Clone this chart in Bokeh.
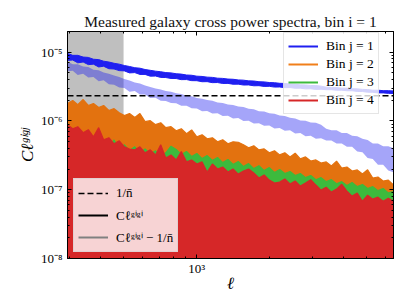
import numpy as np
from bokeh.plotting import figure
from bokeh.models import (Range1d, LogAxis, FixedTicker, CustomJSTickFormatter,
                          BoxAnnotation, Legend, LegendItem)
from bokeh.embed import file_html
from bokeh.resources import INLINE

# multipole ell of each binned sample
ell = [294, 309, 324, 341, 358, 376, 395, 414, 435, 457,
       480, 504, 529, 556, 584, 613, 644, 677, 711, 746,
       784, 823, 864, 908, 953, 1001, 1052, 1104, 1160, 1218,
       1279, 1344, 1411, 1482, 1557, 1635, 1717, 1803, 1894, 1989,
       2089, 2194, 2304, 2420, 2541, 2669, 2803, 2944, 3092, 3247,
       3410, 3581, 3761, 3950, 4149, 4357, 4576, 4806, 5047, 5301,
       5567, 5847, 6141, 6450]

# C_ell^{g1 g1}: upper / lower spread of the noisy measurement (units 1e-6)
c11_hi = [9.6, 9.0, 9.0, 8.5, 8.4, 7.9, 7.8, 7.4, 7.2, 6.9,
          6.7, 6.4, 6.2, 5.95, 5.85, 5.6, 5.45, 5.3, 5.2, 5.05,
          5.0, 4.86, 4.80, 4.66, 4.62, 4.48, 4.44, 4.34, 4.30, 4.19,
          4.16, 4.07, 4.04, 3.95, 3.92, 3.83, 3.81, 3.72, 3.70, 3.62,
          3.60, 3.53, 3.51, 3.44, 3.42, 3.35, 3.34, 3.28, 3.27, 3.21,
          3.10, 3.06, 3.06, 3.00, 3.00, 2.94, 2.93, 2.88, 2.86, 2.80,
          2.80, 2.76, 2.76, 2.73]
c11_lo = [7.6, 7.7, 7.0, 7.2, 6.6, 6.7, 6.1, 6.25, 5.75, 5.7,
          5.4, 5.35, 5.0, 5.05, 4.75, 4.75, 4.48, 4.5, 4.30, 4.28,
          4.15, 4.14, 3.99, 4.0, 3.86, 3.85, 3.72, 3.73, 3.61, 3.62,
          3.51, 3.52, 3.42, 3.43, 3.33, 3.34, 3.25, 3.26, 3.18, 3.19,
          3.11, 3.12, 3.05, 3.06, 2.99, 3.00, 2.93, 2.94, 2.88, 2.89,
          2.85, 2.85, 2.80, 2.80, 2.75, 2.75, 2.69, 2.68, 2.62, 2.61,
          2.56, 2.56, 2.52, 2.51]

# C_ell^{g1 g2}: upper / lower spread (units 1e-7)
c12_hi = [17.9, 19.8, 17.3, 20.5, 16.8, 17.9, 15.7, 16.8, 14.2, 15.1,
          13.2, 12.0, 12.8, 11.2, 12.8, 9.77, 10.1, 8.83, 9.44, 7.98,
          8.25, 7.21, 7.71, 6.52, 7.4, 5.89, 6.30, 5.51, 5.70, 4.98,
          5.33, 4.65, 4.98, 4.9, 4.50, 4.07, 4.35, 3.80, 3.93, 3.44,
          3.68, 3.21, 3.44, 3.00, 3.4, 2.81, 3.00, 2.62, 2.71, 2.45,
          2.54, 2.22, 2.6, 2.07, 2.14, 1.87, 1.94, 1.69, 1.95, 1.48,
          1.53, 1.34, 1.38, 1.17]
c12_lo = [4.98, 5.70, 4.65, 5.33, 4.35, 4.98, 4.07, 4.65, 3.80, 4.21,
          3.56, 3.80, 3.32, 3.44, 3.11, 3.11, 3.00, 2.90, 2.81, 2.62,
          2.62, 2.45, 2.45, 2.29, 2.29, 2.14, 2.14, 1.94, 2.00, 1.81,
          1.87, 1.64, 1.75, 1.53, 1.64, 1.43, 1.53, 1.34, 1.43, 1.25,
          1.34, 1.17, 1.29, 1.09, 1.21, 1.02, 1.13, 0.955, 1.06, 0.893,
          0.988, 0.835, 0.923, 0.780, 0.863, 0.729, 0.807, 0.705, 0.754, 0.659,
          0.705, 0.616, 0.682, 0.616]

# C_ell^{g1 g3}: upper edge of the noisy measurement (units 1e-7)
c13_top = [5.51, 6.30, 5.15, 5.89, 4.81, 5.51, 4.50, 5.15, 4.21, 5.3,
           3.93, 4.50, 3.68, 4.21, 3.44, 3.93, 3.32, 3.68, 3.11, 3.44,
           4.3, 3.85, 3.25, 3.6, 3.05, 3.37, 2.84, 3.14, 2.66, 2.94,
           2.48, 2.75, 2.33, 2.57, 2.17, 2.4, 2.03, 2.24, 1.9, 2.1,
           1.78, 1.97, 1.72, 1.84, 1.61, 1.72, 1.5, 1.61, 1.4, 1.5,
           1.31, 1.4, 1.22, 1.31, 1.15, 1.27, 1.11, 1.19, 1.04, 1.11,
           0.97, 1.04, 0.9, 0.94]

# C_ell^{g1 g4}: upper edge of the noisy measurement (units 1e-7)
c14_top = [8.83, 7.71, 8.25, 6.74, 7.46, 5.89, 8.0, 5.33, 5.70, 4.65,
           5.15, 4.21, 3.9, 3.80, 4.21, 3.44, 3.80, 3.21, 4.5, 2.90,
           3.21, 2.71, 3.6, 2.54, 2.71, 2.37, 2.54, 1.8, 2.37, 2.00,
           2.14, 1.81, 2.00, 1.69, 1.87, 2.0, 1.75, 1.48, 1.64, 1.38,
           1.25, 1.29, 1.43, 1.21, 1.34, 1.13, 1.25, 1.4, 1.17, 0.988,
           1.09, 0.923, 1.02, 1.2, 0.955, 0.807, 0.893, 0.68, 0.835, 0.729,
           0.780, 0.682, 0.754, 0.682]

nbar_inv = 2.33e-6      # shot noise 1/n
ell_cut = 500           # excluded scales (shaded)
labels_j = ["Bin j = 1", "Bin j = 2", "Bin j = 3", "Bin j = 4"]

BLUE = "#1f1ff0"
ORANGE = "#e3720f"
GREEN = "#3dba3d"
RED = "#d62728"
SERIF = "Liberation Serif"

L = np.array(ell, dtype=float)
b_hi = np.array(c11_hi) * 1e-6
b_lo = np.array(c11_lo) * 1e-6
o_hi = np.array(c12_hi) * 1e-7
o_lo = np.array(c12_lo) * 1e-7
g_top = np.array(c13_top) * 1e-7
r_top = np.array(c14_top) * 1e-7
floor = 1e-10

p = figure(width=407, height=305, x_axis_type="log", y_axis_type="log",
           x_range=Range1d(L[0], L[-1]), y_range=Range1d(1e-8, 2e-5),
           output_backend="svg", toolbar_location=None,
           min_border_left=67, min_border_right=14, min_border_top=31, min_border_bottom=47)
p.xgrid.visible = False
p.ygrid.visible = False
p.outline_line_color = "black"
p.outline_line_width = 1
p.background_fill_color = "white"
p.border_fill_color = "white"
xax = p.xaxis[0]
yax = p.yaxis[0]

p.add_layout(BoxAnnotation(right=ell_cut, fill_color="#bfbfbf", fill_alpha=1.0,
                           line_color=None, level="underlay"))

# j = 1 (auto) and auto minus shot noise
p.varea(x=L, y1=b_lo, y2=b_hi, fill_color=BLUE)
p.line(L, b_hi, line_color=BLUE, line_width=1.0)
p.line(L, b_lo, line_color=BLUE, line_width=1.0)
p.varea(x=L, y1=b_lo - nbar_inv, y2=b_hi - nbar_inv, fill_color=BLUE, fill_alpha=0.4)

# j = 2
p.varea(x=L, y1=o_lo, y2=o_hi, fill_color=ORANGE)
p.line(L, o_hi, line_color=ORANGE, line_width=1.2)

# j = 3
p.varea(x=L, y1=floor, y2=g_top, fill_color=GREEN)
p.line(L, g_top, line_color=GREEN, line_width=1.2)

# j = 4
p.varea(x=L, y1=floor, y2=r_top, fill_color=RED)
p.line(L, r_top, line_color=RED, line_width=1.2)

# shot noise
rn = p.line([L[0], L[-1]], [nbar_inv, nbar_inv], line_color="black",
            line_width=1.6, line_dash="6 3")

# legend keys (single-point lines draw nothing in the plot)
def key(color):
    return p.line(L[:1], b_hi[:1], line_color=color, line_width=2)

k1, k2, k3, k4 = key(BLUE), key("#f07f1a"), key(GREEN), key(RED)
rk = key("black")
rg = key("#808080")

# axes / ticks
xt = FixedTicker(ticks=[1000], minor_ticks=[300, 400, 500, 600, 700, 800, 900,
                                            2000, 3000, 4000, 5000, 6000])
ymin = []
for e in (-8, -7, -6):
    for k in range(2, 10):
        ymin.append(k * 10.0 ** e)
ymin.append(2e-5)
yt = FixedTicker(ticks=[1e-8, 1e-7, 1e-6, 1e-5], minor_ticks=ymin)
fmt = CustomJSTickFormatter(code="""
const e = Math.round(Math.log10(tick));
const m = {'-':'\u207b','0':'\u2070','1':'\u00b9','2':'\u00b2','3':'\u00b3','4':'\u2074',
           '5':'\u2075','6':'\u2076','7':'\u2077','8':'\u2078','9':'\u2079'};
return '10' + String(e).split('').map(c => m[c]).join('');
""")
blank = CustomJSTickFormatter(code="return '';")

def style(ax):
    ax.major_tick_in = 4
    ax.major_tick_out = 0
    ax.minor_tick_in = 2
    ax.minor_tick_out = 0
    ax.axis_line_color = "black"
    ax.major_tick_line_color = "black"
    ax.minor_tick_line_color = "black"
    ax.major_label_text_font = SERIF
    ax.major_label_text_font_size = "13px"
    ax.major_label_text_color = "black"

xax.ticker = xt
xax.formatter = fmt
yax.ticker = yt
yax.formatter = fmt
style(xax)
style(yax)
xax.major_label_standoff = 2
yax.major_label_standoff = 5

top = LogAxis(ticker=xt, formatter=blank, major_label_standoff=0)
right = LogAxis(ticker=yt, formatter=blank, major_label_standoff=0)
style(top)
style(right)
p.add_layout(top, "above")
p.add_layout(right, "right")

xax.axis_label = "\u2113"
yax.axis_label = "C\u2113\u1d4d\u2071\u1d4d\u02b2"
for ax in (xax, yax):
    ax.axis_label_text_font = SERIF
    ax.axis_label_text_font_style = "italic"
    ax.axis_label_text_font_size = "17px"
    ax.axis_label_text_color = "black"
xax.axis_label_standoff = -5
yax.axis_label_standoff = 1

p.title.text = "Measured galaxy cross power spectra, bin i = 1"
p.title.align = "center"
p.title.text_font = SERIF
p.title.text_font_style = "normal"
p.title.text_font_size = "15.5px"
p.title.text_color = "#111111"
p.title.standoff = 3

common = dict(background_fill_color="white", background_fill_alpha=0.8,
              border_line_color="#cccccc", border_line_width=1,
              label_text_font=SERIF, label_text_color="black",
              padding=4, margin=0, glyph_width=30, label_standoff=8)

leg1 = Legend(items=[LegendItem(label=labels_j[0], renderers=[k1]),
                     LegendItem(label=labels_j[1], renderers=[k2]),
                     LegendItem(label=labels_j[2], renderers=[k3]),
                     LegendItem(label=labels_j[3], renderers=[k4])],
              location=(216, 144), glyph_height=18, label_height=18, spacing=0,
              label_text_font_size="13.5px", **common)
leg2 = Legend(items=[LegendItem(label="1/n\u0304", renderers=[rn]),
                     LegendItem(label="C\u2113\u1d4d\u2071\u1d4d\u2071", renderers=[rk]),
                     LegendItem(label="C\u2113\u1d4d\u2071\u1d4d\u2071 \u2212 1/n\u0304", renderers=[rg])],
              location=(6, 6), glyph_height=20, label_height=20, spacing=2,
              label_text_font_size="13px", **common)
p.add_layout(leg1)
p.add_layout(leg2)

open("out.html", "w").write(file_html(p, INLINE))
